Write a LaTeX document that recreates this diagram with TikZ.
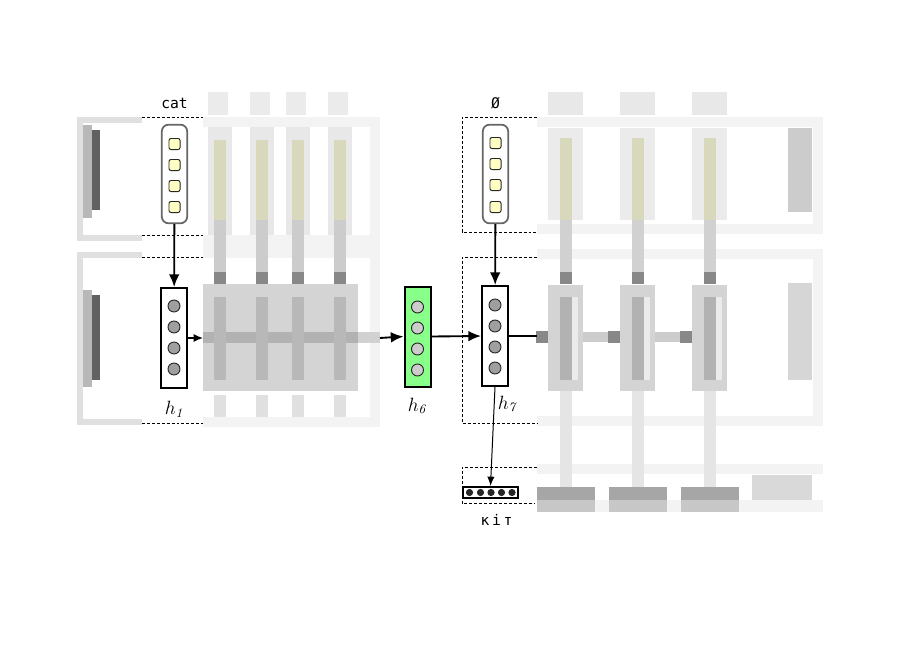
\documentclass[tikz,border=0pt]{standalone}
\usepackage{fontspec}
\newfontfamily\wordfont{DejaVu Sans Mono}
\usetikzlibrary{arrows.meta}
\definecolor{framegray}{HTML}{F3F3F3}
\definecolor{bracketgray}{HTML}{E0E0E0}
\definecolor{blockgray}{HTML}{D4D4D4}
\definecolor{knotgray}{HTML}{888888}
\definecolor{tintyellow}{HTML}{D8D8BC}
\definecolor{embyellow}{HTML}{FFFFC4}
\definecolor{hgreen}{HTML}{88FF88}
\tikzset{
	hbox/.style={draw,line width=1.5pt,minimum width=19.5pt,minimum height=75pt,inner sep=0pt},
	embbox/.style={draw=black!60,line width=1.3pt,rounded corners=5pt,minimum width=19pt,minimum height=74pt,inner sep=0pt},
	neuron/.style={circle,draw=black!85,line width=0.7pt,fill=gray!75,minimum size=9pt,inner sep=0pt},
	embcell/.style={draw=black!85,line width=0.7pt,fill=embyellow,rounded corners=1.5pt,minimum size=8.3pt,inner sep=0pt},
	wordlabel/.style={font=\wordfont\fontsize{11}{13}\selectfont},
	hlabel/.style={font=\fontsize{14}{16}\selectfont},
	guide/.style={line width=0.7pt,dash pattern=on 2.2pt off 1.5pt},
	flow/.style={line width=1.4pt,-{Latex[length=9.5pt,width=8pt]}}
}
\begin{document}
\begin{tikzpicture}[x=0.75pt,y=-0.75pt]
\useasboundingbox (0,0) rectangle (899,660);
% blurred part, left
\draw[bracketgray,line width=4.5pt] (142,120) -- (80,120) -- (80,238) -- (142,238);
\draw[bracketgray,line width=4.5pt] (142,255) -- (80,255) -- (80,422) -- (142,422);
\fill[black!28] (83,125) rectangle (92,218);
\fill[black!62] (92,130) rectangle (100,210);
\fill[black!28] (83,290) rectangle (92,387);
\fill[black!62] (92,295) rectangle (100,380);
\draw[framegray,line width=7.5pt] (203,122) -- (375,122) -- (375,422) -- (203,422);
\fill[framegray] (203,235) rectangle (380,258);
\fill[blockgray] (203,284) rectangle (358,391);
\fill[black!30] (203,332) rectangle (358,343);
\fill[black!18] (358,332) rectangle (380,343);
\foreach \c in {220,262,298,340} {
	\fill[black!8] (\c-12,92) rectangle (\c+8,115);
	\fill[black!9] (\c-12,127) rectangle (\c+12,235);
	\fill[tintyellow] (\c-6,140) rectangle (\c+6,220);
	\fill[black!20] (\c-6,220) rectangle (\c+6,272);
	\fill[knotgray] (\c-6,272) rectangle (\c+6,284);
	\fill[black!28] (\c-6,297) rectangle (\c+6,380);
	\fill[black!12] (\c-6,395) rectangle (\c+6,417);
}
% blurred part, right
\draw[framegray,line width=7.5pt] (537,122) -- (818,122) -- (818,229) -- (537,229);
\draw[framegray,line width=7.5pt] (537,254) -- (818,254) -- (818,421) -- (537,421);
\draw[framegray,line width=7.5pt] (537,469) -- (823,469);
\fill[framegray] (537,500) rectangle (823,512);
\fill[black!20] (537,332) rectangle (692,342);
\fill[black!20] (788,128) rectangle (812,212);
\fill[black!16] (788,283) rectangle (812,380);
\fill[black!15] (752,475) rectangle (812,500);
\foreach \c in {566,638,710} {
	\fill[black!9] (\c-18,92) rectangle (\c+17,115);
	\fill[black!8] (\c-18,128) rectangle (\c+17,220);
	\fill[tintyellow] (\c-6,138) rectangle (\c+6,220);
	\fill[black!18] (\c-6,220) rectangle (\c+6,272);
	\fill[knotgray] (\c-6,272) rectangle (\c+6,284);
	\fill[blockgray] (\c-18,285) rectangle (\c+17,391);
	\fill[black!30] (\c-6,297) rectangle (\c+6,380);
	\fill[black!8] (\c+6,297) rectangle (\c+12,380);
	\fill[knotgray] (\c-30,331) rectangle (\c-18,343);
	\fill[black!10] (\c-6,391) rectangle (\c+6,487);
	\fill[black!35] (\c-29,487) rectangle (\c+29,500);
	\fill[black!22] (\c-29,500) rectangle (\c+29,512);
}
% guides
\draw[guide] (142,117) -- (203,117);
\draw[guide] (142,235) -- (203,235);
\draw[guide] (142,257) -- (203,257);
\draw[guide] (142,423) -- (203,423);
\draw[guide] (537,117) -- (462,117) -- (462,232) -- (537,232);
\draw[guide] (537,257) -- (462,257) -- (462,423) -- (537,423);
\draw[guide] (537,467) -- (462,467) -- (462,503) -- (535,503);
% encoder
\node[embbox] (embCat) at (174.5,174) {};
\foreach \y in {144,165,186,207}
	\node[embcell] at (174.5,\y) {};
\node[wordlabel] (wordCat) at (174.5,103) {cat};
\node[hbox] (h1) at (174,338) {};
\foreach \y in {306,327,348,369}
	\node[neuron] at (174,\y) {};
\node[hlabel] (lab1) at (174,409) {$h_{\mathit{1}}$};
\coordinate (inMid) at (203,338);
\coordinate (outMid) at (380,338);
\node[hbox,fill=hgreen] (h6) at (417.5,336.5) {};
\foreach \y in {307,328,349,370}
	\node[neuron,fill=gray!40] at (417.5,\y) {};
\node[hlabel] (lab6) at (417,406) {$h_{\mathit{6}}$};
% decoder
\node[embbox] (embNull) at (495.5,174) {};
\foreach \y in {143,164,185,207}
	\node[embcell] at (495.5,\y) {};
\node[wordlabel] (wordNull) at (495.5,103) {Ø};
\node[hbox] (h7) at (495,336) {};
\foreach \y in {305,326,347,368}
	\node[neuron] at (495,\y) {};
\node[hlabel] (lab7) at (507,404) {$h_{\mathit{7}}$};
\coordinate (decMid) at (537,336);
\node[draw,line width=1.5pt,minimum width=41pt,minimum height=8.3pt,inner sep=0pt] (kit) at (490.5,492.5) {};
\foreach \x in {469.5,480.5,491,501.5,512}
	\fill[black!85] (\x,492.5) circle (2.7pt);
\node[wordlabel] (wordKit) at (496.5,520) {к\hspace{2pt}і\hspace{2pt}т};
% connectors
\draw[flow] (embCat) -- (h1);
\draw[line width=1pt,-{Latex[length=7pt,width=6pt]}] (h1.east) -- (inMid);
\draw[flow] (outMid) -- (h6.west);
\draw[flow] (h6.east) -- (h7.west);
\draw[flow] (embNull) -- (h7);
\draw[line width=1.4pt] (h7.east) -- (decMid);
\draw[line width=0.75pt,-{Latex[length=7pt,width=5.5pt]}] (h7.south) -- (kit.north);
\end{tikzpicture}
\end{document}
